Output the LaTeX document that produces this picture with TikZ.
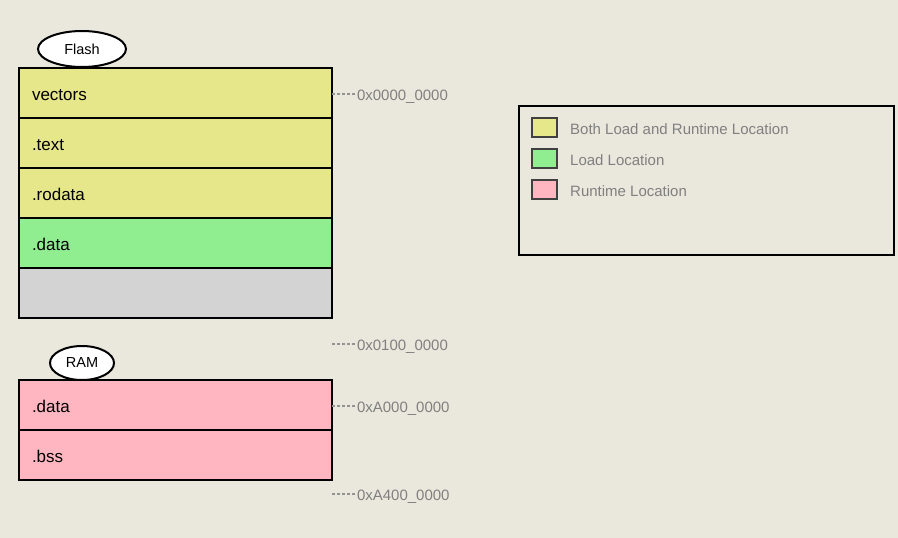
\documentclass[tikz,border=0pt]{standalone}
\usepackage{fontspec}
\setmainfont{Liberation Sans}
\usepackage{xcolor}
\usetikzlibrary{positioning, shapes.geometric}

\definecolor{paper}{HTML}{EAE7DC}
\definecolor{loadrun}{HTML}{E6E68A}
\definecolor{loadonly}{HTML}{90EE90}
\definecolor{runonly}{HTML}{FFB6C1}
\definecolor{unused}{HTML}{D3D3D3}
\definecolor{addrgray}{HTML}{808080}
\definecolor{swatchedge}{HTML}{404040}

\begin{document}
\begin{tikzpicture}[x=1pt, y=-1pt,
    seg/.style={draw, line width=1.8pt, outer sep=0pt, minimum width=313pt, minimum height=50pt,
                text width=287pt, text height=14pt, text depth=0pt, inner xsep=13pt, inner ysep=0pt,
                align=left, font=\fontsize{17}{20}\selectfont},
    memtag/.style={ellipse, draw, fill=white, line width=2pt, inner sep=0pt,
                   font=\fontsize{14.5}{17}\selectfont},
    addr/.style={anchor=base west, inner xsep=2pt, inner ysep=0pt, outer sep=0pt, text=addrgray,
                 font=\fontsize{15}{18}\selectfont},
    tick/.style={addrgray!85, line width=1.1pt, dash pattern=on 3pt off 2pt},
    swatch/.style={draw=swatchedge, line width=1.4pt, minimum width=25pt, minimum height=19pt, inner sep=0pt},
    keytext/.style={anchor=base west, inner sep=0pt, text=addrgray, font=\fontsize{15}{18}\selectfont},
]

\useasboundingbox[fill=paper] (0,0) rectangle (898,538);

% --- Flash: stacked sections ---
\node[seg, fill=loadrun] (vec) at (175.5,93) {vectors};
\node[seg, fill=loadrun, below=0pt of vec]    (txt)    {.text};
\node[seg, fill=loadrun, below=0pt of txt]    (rodata) {.rodata};
\node[seg, fill=loadonly, below=0pt of rodata] (fdata)  {.data};
\node[seg, fill=unused, below=0pt of fdata]   (fgap)   {};
\node[memtag, minimum width=88pt, minimum height=36pt] (flash) at (82,49) {Flash};

% --- RAM: stacked sections ---
\node[seg, fill=runonly] (rdata) at (175.5,405) {.data};
\node[seg, fill=runonly, below=0pt of rdata] (bss) {.bss};
\node[memtag, minimum width=64pt, minimum height=34pt] (ram) at (82,363) {RAM};

% --- Addresses ---
\coordinate (a0) at (332,94);
\coordinate (a1) at (332,344);
\coordinate (a2) at (332,406);
\coordinate (a3) at (332,494);
\node[addr] (l0) at (355,100) {0x0000\_0000};
\node[addr] (l1) at (355,350) {0x0100\_0000};
\node[addr] (l2) at (355,412) {0xA000\_0000};
\node[addr] (l3) at (355,500) {0xA400\_0000};
\draw[tick] (a0) -- (a0 -| l0.west);
\draw[tick] (a1) -- (a1 -| l1.west);
\draw[tick] (a2) -- (a2 -| l2.west);
\draw[tick] (a3) -- (a3 -| l3.west);

% --- Legend ---
\node[draw, line width=2.6pt, outer sep=0pt, minimum width=375pt, minimum height=149pt,
      anchor=north west] (legend) at (519,106) {};
\node[swatch, fill=loadrun]  (k1) at (544.5,127.5) {};
\node[swatch, fill=loadonly] (k2) at (544.5,158.5) {};
\node[swatch, fill=runonly]  (k3) at (544.5,189.5) {};
\node[keytext] (t1) at (570,134) {Both Load and Runtime Location};
\node[keytext] (t2) at (570,165) {Load Location};
\node[keytext] (t3) at (570,196) {Runtime Location};

\end{tikzpicture}
\end{document}
